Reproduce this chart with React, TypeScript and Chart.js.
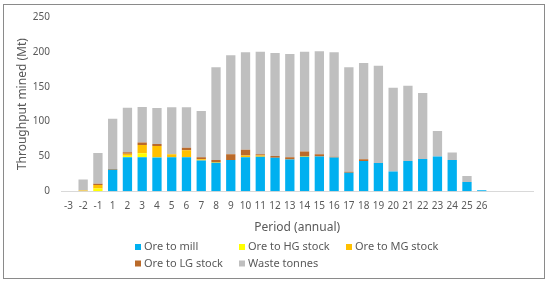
import React, { useEffect, useRef } from 'react';
import { Chart, registerables } from 'chart.js';

Chart.register(...registerables);

// Periods (three trailing blank categories as in the source sheet)
const periods = ['-3', '-2', '-1', '1', '2', '3', '4', '5', '6', '7', '8', '9', '10', '11', '12', '13', '14', '15', '16', '17', '18', '19', '20', '21', '22', '23', '24', '25', '26', '', '', ''];

const oreToMill = [0, 0, 0, 31, 49, 49, 48.5, 49, 49, 44, 41, 45, 49, 49.5, 48, 45.5, 49.5, 50, 48.5, 26.5, 43.5, 40.5, 28.5, 43.5, 46.5, 50, 45, 13.5, 1.5, null, null, null];
const oreToHG = [0, 0, 4, 0, 2, 5.5, 0.5, 0, 0, 0, 0, 0, 0, 0, 0, 0, 0, 0, 0, 0, 0, 0, 0, 0, 0, 0, 0, 0, 0, null, null, null];
const oreToMG = [0, 1, 5, 0, 3, 12, 16, 4, 10, 2, 1, 0, 2.5, 2, 0, 0, 1, 0, 0, 0, 0, 0, 0, 0, 0, 0, 0, 0, 0, null, null, null];
const oreToLG = [0, 0, 2, 1, 2, 3.5, 3, 0, 3.5, 3, 3, 8, 8, 1.5, 2.5, 3.5, 6.5, 3, 1, 1.5, 2.5, 0, 0, 0, 0, 0, 0, 0, 0, null, null, null];
const wasteTonnes = [0, 16, 44, 72, 64, 51, 51.5, 67.5, 58, 66, 133, 142, 140, 147, 148, 148, 143, 148, 150, 150, 138, 139.5, 120, 108, 94.5, 36.5, 10.5, 8.5, 0, null, null, null];

const yTicks = [0, 50, 100, 150, 200, 250];

const FONT = '"Noto Sans", "DejaVu Sans", sans-serif';
const TEXT = '#595959';

export default function App() {
  const ref = useRef<HTMLCanvasElement>(null);

  useEffect(() => {
    document.body.style.margin = '0';
    const canvas = ref.current!;

    const framePlugin = {
      id: 'frame',
      beforeDraw(chart: any) {
        const ctx = chart.ctx;
        ctx.save();
        ctx.fillStyle = '#ffffff';
        ctx.fillRect(0, 0, chart.width, chart.height);
        ctx.strokeStyle = '#8a8a8a';
        ctx.lineWidth = 1;
        ctx.strokeRect(3.5, 4.5, 541, 274);
        ctx.restore();
      },
    };

    const legendPlugin = {
      id: 'gridLegend',
      afterDraw(chart: any) {
        const ctx = chart.ctx;
        const cols = [135, 239, 346];
        const rows = [247, 263.5];
        ctx.save();
        ctx.font = `11px ${FONT}`;
        ctx.textBaseline = 'middle';
        ctx.textAlign = 'left';
        chart.data.datasets.forEach((ds: any, i: number) => {
          const c = cols[i % 3];
          const r = rows[Math.floor(i / 3)];
          ctx.fillStyle = ds.backgroundColor;
          ctx.fillRect(c, r - 3, 6, 6);
          ctx.fillStyle = TEXT;
          ctx.fillText(ds.label, c + 9, r);
        });
        ctx.restore();
      },
    };

    const chart = new Chart(canvas, {
      type: 'bar',
      data: {
        labels: periods,
        datasets: [
          { label: 'Ore to mill', data: oreToMill, backgroundColor: '#00B0F0' },
          { label: 'Ore to HG stock', data: oreToHG, backgroundColor: '#FFFF00' },
          { label: 'Ore to MG stock', data: oreToMG, backgroundColor: '#FFC000' },
          { label: 'Ore to LG stock', data: oreToLG, backgroundColor: '#BA6A2A' },
          { label: 'Waste tonnes', data: wasteTonnes, backgroundColor: '#BFBFBF' },
        ] as any,
      },
      options: {
        responsive: false,
        animation: false,
        devicePixelRatio: 1,
        layout: { padding: { top: 12.7, left: 0, right: 16.6, bottom: 48.8 } },
        datasets: {
          bar: { categoryPercentage: 1, barPercentage: 0.63, borderWidth: 0 },
        } as any,
        plugins: {
          legend: { display: false },
          tooltip: { enabled: false },
        },
        scales: {
          x: {
            stacked: true,
            offset: true,
            grid: { display: false, drawTicks: false },
            border: { display: true, color: '#d9d9d9', width: 1 },
            ticks: {
              color: TEXT,
              font: { family: FONT, size: 10 },
              padding: 9,
              maxRotation: 0,
              autoSkip: false,
            },
            title: {
              display: true,
              text: 'Period (annual)',
              color: TEXT,
              font: { family: FONT, size: 12 },
              padding: { top: 0, bottom: 0 },
            },
            afterFit(scale: any) {
              scale.height = 43.9;
            },
          },
          y: {
            stacked: true,
            min: 0,
            max: 250,
            afterBuildTicks(scale: any) {
              scale.ticks = yTicks.map((v) => ({ value: v }));
            },
            grid: { display: false, drawTicks: false },
            border: { display: false },
            ticks: {
              color: TEXT,
              font: { family: FONT, size: 10 },
              padding: 11,
            },
            title: {
              display: true,
              text: 'Throughput mined (Mt)',
              color: TEXT,
              font: { family: FONT, size: 12 },
              padding: { top: 15, bottom: 0 },
            },
            afterFit(scale: any) {
              scale.width = 61;
            },
          },
        },
      },
      plugins: [framePlugin, legendPlugin],
    });

    return () => chart.destroy();
  }, []);

  return (
    <div style={{ width: 550, height: 284, position: 'relative' }}>
      <canvas ref={ref} width={550} height={284} style={{ display: 'block' }} />
    </div>
  );
}
